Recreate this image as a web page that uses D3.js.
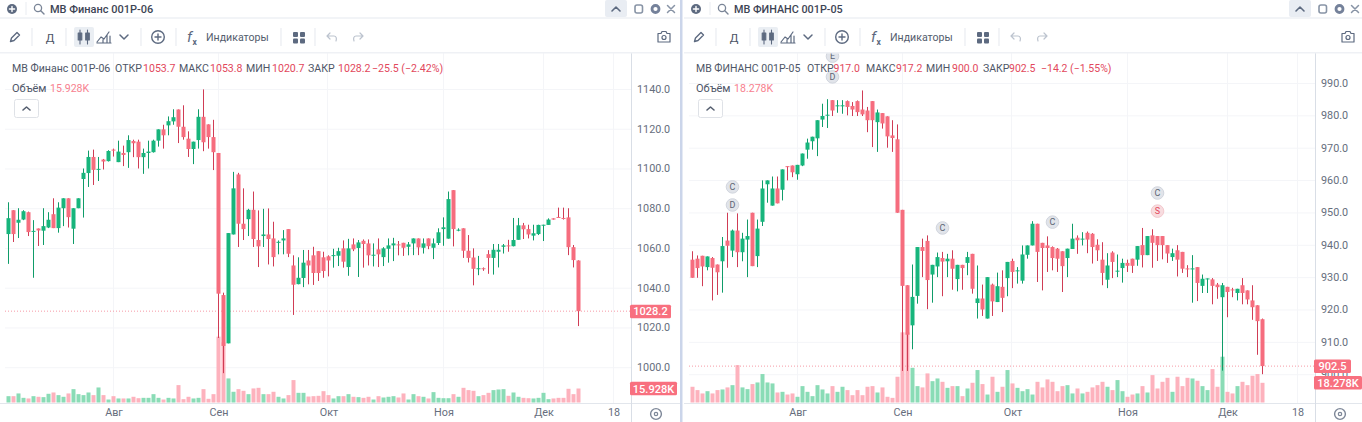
<!DOCTYPE html>
<html>
<head>
<meta charset="utf-8">
<style>
  html, body { margin: 0; padding: 0; background: #fff; overflow: hidden; }
  text { font-family: Roboto, "Noto Sans", sans-serif; }
  .domain { display: none; }
</style>
<script src="https://cdnjs.cloudflare.com/ajax/libs/d3/7.8.5/d3.min.js"></script>
</head>
<body>
<div id="chart"></div>
<script>
var monthLabels = ["Авг", "Сен", "Окт", "Ноя", "Дек", "18"];
var monthIndex = [21, 42, 64, 87, 107, 121];

// МВ Финанс 001Р-06
var leftOpen = [1067,1079,1072.7,1074.3,1078,1068.2,1069.8,1068.7,1070.3,1077,
  1070,1080,1085,1069.7,1080,1094.7,1097.7,1105.8,1099.3,1104.5,
  1103.7,1109.5,1103.2,1107.8,1108.2,1113.8,1113.5,1105.7,1107.8,1108.2,
  1114,1119.7,1121.7,1123.7,1129.7,1121,1115,1109.8,1114.3,1126,
  1122.2,1115.8,1107.8,1036.3,1012,1066.8,1097,1072.2,1074.5,1079.2,
  1064,1066,1066.8,1064.8,1062.8,1063.8,1069.5,1051.2,1041.8,1044.9,
  1053.7,1056.3,1058.4,1055.3,1055.8,1055.9,1056.1,1059.8,1050.4,1061.8,
  1060,1063.6,1062.3,1056.3,1059.3,1055.4,1059.6,1061.3,1061.8,1062.6,
  1060.6,1062.3,1064.8,1060.1,1064.8,1060.1,1062.5,1069.5,1064.7,1089.1,
  1068.7,1069.9,1058.6,1055.2,1049.5,1049.8,1056.9,1055,1058.1,1060.6,
  1061.3,1060.9,1064.1,1071.4,1069.5,1066.2,1067,1071.4,1071.6,1074.9,
  1075.6,1075.1,1075.4,1060.4,1053.7];
var leftClose = [1075,1067,1074.2,1078.5,1068,1068.6,1068.8,1071,1074.2,1070,
  1080.3,1085,1075.5,1080,1085,1097.8,1105.8,1099.3,1099.8,1103.5,
  1108.8,1109,1108.5,1106.8,1114.3,1112.7,1105.7,1107.8,1108.5,1114,
  1119.7,1116.7,1123.8,1125.8,1121,1115.8,1109.8,1113.5,1126,1113.2,
  1115.8,1108.2,1037,1010.7,1067.5,1090,1072.2,1069.5,1079.2,1064.5,
  1060.8,1066.8,1064.5,1055.4,1063.1,1064.8,1057.1,1041.5,1045,1052.6,
  1051.2,1047.4,1047.4,1048.4,1053.7,1056.4,1058.4,1053.1,1059.8,1059.3,
  1062.8,1062,1056.3,1056.6,1056.8,1059.8,1061.3,1062.3,1061.5,1060.1,
  1061.8,1064.8,1060.3,1062.3,1060.9,1062.3,1067.9,1070.4,1084.6,1069.5,
  1069.2,1058.6,1055,1049.5,1049.8,1049.3,1055,1059.1,1059.1,1061.3,
  1060.9,1064,1071.4,1069.4,1066.8,1067.4,1071.6,1071.7,1074.3,1074.3,
  1075.3,1074.6,1060.4,1053.9,1028.2];
var leftHigh = [1083,1079,1080,1079,1078.3,1074,1069.8,1080,1078,1085,
  1083,1085,1085,1080,1085,1100,1109,1109.5,1105.8,1104.8,
  1109.2,1110,1114,1111.5,1116.7,1114.5,1114.5,1110,1114,1114.5,
  1119.7,1122,1126.2,1129.8,1129.7,1131.8,1118.7,1113.5,1129.8,1139.8,
  1122.2,1124.5,1107.8,1037.5,1067.5,1098.3,1097.8,1090,1079.7,1088.4,
  1078.9,1079.7,1079.9,1073.2,1063.8,1069,1069.5,1056.3,1055.3,1059,
  1059,1060.6,1058.4,1058.1,1056.3,1059.6,1060.1,1063.8,1064.6,1064.8,
  1064,1064.3,1064.3,1062.3,1064.8,1060.4,1064.8,1065.1,1063.5,1062.6,
  1063,1064.8,1064.8,1064.8,1064.8,1064.8,1069.9,1075.4,1088.4,1089.1,
  1069.9,1069.9,1066.5,1059.8,1056,1050.2,1058.9,1062,1062,1062,
  1064.1,1075.1,1075.1,1072.6,1071.7,1071.7,1071.7,1071.7,1074.9,1074.9,
  1080.3,1080.3,1080,1061.5,1053.8];
var leftLow = [1052,1063,1065,1074,1066,1045,1061,1061.5,1070,1070,
  1067.7,1071,1070.3,1062,1080,1075.3,1090.7,1091.7,1093.7,1099.5,
  1103.5,1106,1103.2,1101.2,1100.3,1105.7,1100,1097.3,1100,1108,
  1111,1110,1116.7,1122,1112.8,1114.5,1105.8,1102.2,1110,1108.7,
  1110,1099.2,1014.7,997,1012,1066.8,1060.5,1064,1066,1060.5,
  1050.4,1060.5,1051.7,1050.7,1056.8,1056.8,1055.4,1026.3,1041.7,1040.3,
  1041.7,1041.4,1043.4,1045,1045.7,1050.1,1050.9,1050.1,1046,1058.4,
  1045.4,1050.1,1051.2,1050.7,1050.4,1050.9,1052.6,1053.4,1056.3,1056,
  1056.3,1056.4,1056.4,1057.2,1059.4,1054.4,1061.5,1061.1,1064.7,1060.8,
  1068.4,1055,1052.7,1041.2,1046.3,1048.5,1047,1046.6,1050.2,1057.2,
  1058.1,1060.8,1064.1,1064.5,1064.8,1063.8,1066.5,1063.5,1071.6,1074.3,
  1075.3,1074.3,1056.4,1050.2,1020.7];
var leftVolume = [7.2,7.2,10.3,5.3,4.6,7.2,6.5,6.1,9.9,11.4,
  8.4,6.5,10.3,15.2,9.5,8.4,11.4,8.4,17.1,8.4,
  3.4,7.2,4.6,4.6,4.6,6.5,4.9,5.3,5.3,9.5,
  5.3,3.4,5.3,4.6,19.8,3.8,6.5,4.6,5.3,15.2,
  4.2,9.5,74.9,68.4,27.4,12.2,15.2,13.3,9.5,16,
  16.7,9.5,9.5,12.2,6.5,4.6,8.4,25.5,11,11,
  6.8,7.2,7.6,12.9,8.4,4.6,7.2,7.2,9.5,6.5,
  6.1,5.3,6.5,3.4,7.2,5.7,6.5,7.2,5.7,10.3,
  3.4,9.5,7.2,6.5,4.6,11.8,5.3,4.9,4.9,9.5,
  6.5,16.7,14.1,13.3,7.2,8.4,11,14.1,14.8,15.2,
  7.6,11.4,6.5,5.3,4.9,4.6,5.3,11,3.8,4.6,
  5.3,5.3,15.6,9.5,15.928];
var leftPriceTicks = [1000,1020,1040,1060,1080,1100,1120,1140];

// МВ ФИНАНС 001Р-05
var rightOpen = [935.4,935.7,936.6,933.1,935.9,933.9,934.9,941.3,938.2,944.4,
  937.7,941.6,949.9,936.5,947.1,958.7,952.1,957.4,957,964.3,
  964.5,961.8,964.5,969.4,972,972.9,978.7,979.9,984.7,982.9,
  982.9,984.4,982.9,984.4,981.8,981.5,984.4,977.9,980.7,979.7,
  973.8,972.6,950.8,927.5,915.1,924.2,939.3,941.2,930.8,933.3,
  935.9,934.9,935.7,929.4,933.8,934.4,937.2,922,923.4,917.2,
  927.7,922.3,927,929.7,935,931.8,928.9,936.9,939.8,946.5,
  940.6,939.8,939.3,938.8,938,935.9,938.7,942.2,941.7,943.7,
  943.4,940,935.4,929.2,937.6,931.7,932.8,934.4,935.7,935.4,
  939.9,936.8,942.9,942.7,942.7,939.9,936.2,938.3,937.8,932.7,
  932.5,933.1,927.3,929.4,929.3,927.7,923.8,927,926.2,925.1,
  927.5,925.9,922.8,921.3,917];
var rightClose = [929.8,932.8,933.3,936.4,932.9,931.5,939.6,939.7,944.4,937.7,
  941.9,942.7,933.4,945,957.4,959.9,957.4,952.8,963.3,964.1,
  962.4,964.7,968.2,971.6,973.4,978.5,979.8,980.2,981.5,983.1,
  983.1,982.6,981.8,981,980.3,978.5,978.5,980.9,977.5,973.5,
  973,949.9,927.3,912.2,923.9,939.3,938.1,929.1,933.8,936.2,
  934.8,935.7,932.6,933.8,932.8,936.2,926.4,923.4,920,930,
  922.5,927.2,923.6,934.7,931.6,932.1,937,939.8,946.5,937.8,
  939,939,935.9,935.7,933.4,938.8,941.9,941.4,941.9,941.6,
  939.3,938.3,931.3,933.6,934.7,932,934.4,933.5,933.5,939.6,
  936.8,942.7,940.6,939.9,939.9,937.3,937.4,935.4,932.6,932.5,
  932.7,928.2,929.5,929.6,927.3,926.9,927.5,925.4,926,926.4,
  925.1,923.1,920.7,916.4,902.5];
var rightHigh = [938,936.7,936.6,936.4,936.2,933.9,942.4,949.9,944.7,949.7,
  943.7,947.8,949.9,947.8,959.9,959.9,961.1,961.1,963.3,964.3,
  964.5,964.7,968.2,972.8,973.4,978.5,983.6,985,984.7,984.7,
  984.7,984.6,984.1,984.6,987.7,982.6,984.4,981.8,980.7,979.7,
  978.5,977.2,950.8,927.5,933.9,939.3,941.9,942.9,933.8,937.6,
  937.8,937.2,938.3,933.8,933.8,937.8,937.2,933.6,927.7,930,
  928,931.4,932.1,934.7,935.7,933.1,939.8,939.8,947.3,946.5,
  940.6,942.6,939.5,939,938,938.8,946.5,942.9,943.9,944.1,
  943.6,941.7,940.8,937.4,938,937,935.7,935.4,935.7,939.6,
  945.2,942.7,944.8,942.7,942.7,939.9,938.8,939.9,937.8,933.7,
  936.8,933.1,930.8,929.6,929.7,928.2,928.2,927,926.7,926.4,
  929.7,925.9,927.5,921.3,917.2];
var rightLow = [929.8,929.8,927.2,932.1,922.8,924.5,925.2,932.9,936.2,933.1,
  934.9,930,933.4,933.1,945.8,953,952.1,952.8,953.7,959.9,
  960.9,960.1,964.3,966.6,969.4,967.4,976.4,976.1,979.8,980.8,
  980.5,980,979.8,979.8,979.8,974.8,970.2,968.7,975.9,970,
  968.7,949.9,901,901,907.7,921.8,930,920.1,922.1,930,
  924.1,930,926.1,925.6,926.1,930.6,924.9,917.2,918,917.2,
  918,922.3,919.2,924.1,926.6,928,928,935.7,939.8,928.5,
  925.9,931.6,932.1,931.6,925.4,930,938.7,937.2,939.8,937.4,
  934.2,935,927.5,926.6,929.7,930,928.3,931.6,931.3,933.5,
  933,936.8,932.9,935,935.5,934.4,935,930.2,931.3,930,
  922.1,922.6,925.1,925.1,921.6,923.3,901.1,917.6,923.8,922.8,
  921.6,921.6,916.8,906,900];
var rightVolume = [14.6,11.5,8.4,10.5,8.4,11.5,12.1,14,16.1,34.7,
  14,12.4,17.1,18.6,26.4,18.6,17.7,9.3,9.9,7.4,
  8.4,5.3,15.2,9.9,5.9,16.1,12.1,8.4,15.2,9.9,
  14.6,11.5,6.8,11.5,6.8,14.6,15.2,9.3,14,5.3,
  4.3,23.9,65.1,65.1,32.2,15.2,14,27,19.8,22.3,
  19.2,13.6,15.2,15.2,5.9,13,18.3,30.1,17.1,7.4,
  23.9,9.9,14.6,30.1,17.7,13.6,10.5,12.4,7.4,19.2,
  14,21.4,19.2,10.5,15.2,16.1,8.4,13,8.4,9.9,
  14,16.1,19.2,14.6,11.5,20.8,10.5,5.3,7.4,8.4,
  15.2,9.3,25.4,13,19.2,22.9,9.9,23.9,15.2,22.9,
  22.3,20.2,15.2,11.5,31,14.6,42.5,9.9,8.4,15.2,
  19.2,16.1,24.8,26.4,18.278];
var rightPriceTicks = [900,910,920,930,940,950,960,970,980,990];

// bubbles above the candles of the right chart
var eventLetters = ["C","D","E","D","C","C","C","S"];
var eventIndex = [8,8,28,28,50,72,93,93];
var eventPrice = [957.9,952.3,998.3,991.9,945.2,947,956,950.4];

var svgWidth = 1362;
var svgHeight = 422;

var colorUp = "#17b57c";
var colorUpWick = "#0f9c69";
var colorDown = "#f66d7e";
var colorDownWick = "#d03c55";
var colorUpVol = "#8adcb6";
var colorDownVol = "#fdb2bd";
var textColor = "#4e5667";
var axisColor = "#666e7d";
var redText = "#e2485c";
var lightRed = "#f7818f";
var iconColor = "#5d6a80";

var svg = d3.select("#chart")
  .append("svg")
  .attr("width", svgWidth)
  .attr("height", svgHeight)
  .style("display", "block");

svg.append("rect").attr("width", svgWidth).attr("height", svgHeight).attr("fill", "#fff");

var clip = svg.append("defs").append("clipPath").attr("id", "plotClip")
clip.append("rect").attr("x", 0).attr("y", 53).attr("width", 631).attr("height", 350);

function label(g, x, y, str, size, color, weight, anchor) {
  return g.append("text")
    .attr("x", x)
    .attr("y", y)
    .attr("font-size", size)
    .attr("fill", color)
    .attr("font-weight", weight || 400)
    .attr("text-anchor", anchor || "start")
    .text(str);
}

function divider(g, x) {
  g.append("line").attr("x1", x).attr("x2", x).attr("y1", 28).attr("y2", 46)
    .attr("stroke", "#e9ecf1").attr("stroke-width", 1.2);
}

function icon(g, x, y, path, opts) {
  opts = opts || {};
  g.append("path")
    .attr("transform", "translate(" + x + "," + y + ")")
    .attr("d", path)
    .attr("fill", opts.fill || "none")
    .attr("stroke", opts.stroke || iconColor)
    .attr("stroke-width", opts.width || 1.4)
    .attr("stroke-linecap", "round")
    .attr("stroke-linejoin", "round");
}

function drawToolbar(g, cfg) {
  // top row
  g.append("rect").attr("x", 0).attr("y", 17).attr("width", 680).attr("height", 2).attr("fill", "#f2f4f7");
  g.append("rect").attr("x", 0).attr("y", 52).attr("width", 680).attr("height", 1.5).attr("fill", "#eff1f5");
  g.append("circle").attr("cx", 12).attr("cy", 9).attr("r", 5).attr("fill", iconColor);
  icon(g, 12, 9, "M-2.6,0H2.6M0,-2.6V2.6", { stroke: "#fff" });
  g.append("line").attr("x1", 26).attr("x2", 26).attr("y1", 2).attr("y2", 15).attr("stroke", "#e9ecf1");
  g.append("circle").attr("cx", 38).attr("cy", 8).attr("r", 3.6).attr("fill", "none").attr("stroke", "#7a8597").attr("stroke-width", 1.3);
  icon(g, 38, 8, "M2.8,2.8L6,6", { stroke: "#7a8597" });
  label(g, 50, 13, cfg.symbol, cfg.symbolSize, "#3d4454", 500);

  g.append("rect").attr("x", 605).attr("y", 0).attr("width", 22).attr("height", 17).attr("rx", 2).attr("fill", "#e9edf3");
  icon(g, 616, 9, "M-4,2L0,-2L4,2", { width: 1.6 });
  g.append("rect").attr("x", 635).attr("y", 5).attr("width", 7.5).attr("height", 8).attr("rx", 2).attr("fill", "none").attr("stroke", "#8894a6").attr("stroke-width", 1.6);
  g.append("circle").attr("cx", 655.5).attr("cy", 9).attr("r", 3.5).attr("fill", "none").attr("stroke", "#74819a").attr("stroke-width", 2.8);
  icon(g, 671, 9, "M-3.5,-3.5L3.5,3.5M-3.5,3.5L3.5,-3.5", { stroke: "#8894a6", width: 1.5 });

  // second row
  icon(g, 15, 37, "M-4.5,4.5L-3.5,1L2,-4.5L4.5,-2L-1,3.5Z");
  divider(g, 32);
  label(g, 50, 41.5, "Д", 11.5, "#4c5566", 400, "middle");
  divider(g, 66);
  g.append("rect").attr("x", 74).attr("y", 27).attr("width", 20).attr("height", 20).attr("rx", 2).attr("fill", "#eaeef3");
  icon(g, 80, 37, "M0,-7V7M-1.8,-4H1.8V3H-1.8Z", { fill: iconColor, width: 1.1 });
  icon(g, 87.5, 37, "M0,-7V7M-1.8,-4H1.8V3H-1.8Z", { fill: iconColor, width: 1.1 });
  icon(g, 104, 37, "M-7,5L-3,0L0,2L5,-5M-7,6H7M-1,6V2.5M3,6V-2M6,6V-1", { width: 1.2 });
  icon(g, 124, 37, "M-4,-2L0,2L4,-2", { width: 1.5 });
  divider(g, 141);
  g.append("circle").attr("cx", 158).attr("cy", 37).attr("r", 6.3).attr("fill", "none").attr("stroke", iconColor).attr("stroke-width", 1.4);
  icon(g, 158, 37, "M-3,0H3M0,-3V3", { width: 1.4 });
  divider(g, 176);
  label(g, 187, 42, "f", 15, iconColor, 400).attr("font-style", "italic");
  label(g, 192.5, 45, "x", 8.5, iconColor, 700);
  label(g, 206, 41, "Индикаторы", 10.6, "#535c6d");
  divider(g, 281);
  [[-5, -5], [2, -5], [-5, 1.5], [2, 1.5]].forEach(function (p) {
    g.append("rect").attr("x", 298 + p[0]).attr("y", 37 + p[1]).attr("width", 5).attr("height", 5).attr("rx", 1).attr("fill", iconColor);
  });
  divider(g, 315);
  icon(g, 332, 37, "M-2,-4L-5,-1L-2,2M-5,-1H2C4,-1 5,1 4,4", { stroke: "#bcc3ce", width: 1.2 });
  icon(g, 358, 37, "M2,-4L5,-1L2,2M5,-1H-2C-4,-1 -5,1 -4,4", { stroke: "#bcc3ce", width: 1.2 });
  icon(g, 664, 37, "M-6,-3.5H-3L-2,-5.5H2L3,-3.5H6V5H-6Z", { width: 1.2 });
  g.append("circle").attr("cx", 664).attr("cy", 37.5).attr("r", 2).attr("fill", "none").attr("stroke", iconColor).attr("stroke-width", 1.2);
}

function drawLegend(g, cfg) {
  label(g, cfg.symbolX, 72, cfg.symbol, cfg.legendSize, textColor);
  cfg.legendKeys.forEach(function (k, i) {
    label(g, cfg.legendKeyX[i], 72, k, cfg.legendSize, textColor);
    label(g, cfg.legendValX[i], 72, cfg.legendVals[i], cfg.legendSize, redText);
  });
  label(g, cfg.closeChangeX, 72, cfg.closeChange, cfg.legendSize, redText);
  label(g, cfg.symbolX, 92, "Объём", 11, textColor);
  label(g, cfg.volTextX, 92, cfg.volText, 10.6, lightRed);
  g.append("rect").attr("x", 14.5).attr("y", 99.5).attr("width", 24).attr("height", 18).attr("rx", 2)
    .attr("fill", "#fff").attr("stroke", "#dfe2e7");
  icon(g, 26.5, 108.5, "M-3.5,1.5L0,-1.5L3.5,1.5", { stroke: "#565f70", width: 1.6 });
}

function drawPanel(cfg) {
  var g = svg.append("g").attr("transform", "translate(" + cfg.dx + ",0)");

  var xScale = d3.scaleLinear().domain([0, 114]).range([8.5, 578.5]);
  var yScale = d3.scaleLinear().domain(cfg.priceDomain).range(cfg.priceRange);
  var vScale = d3.scaleLinear().domain([0, cfg.volRef]).range([402.5, 402.5 - cfg.volRefPx]);

  // grid
  g.selectAll(".hgrid").data(cfg.priceTicks).enter().append("line")
    .attr("x1", 5).attr("x2", 631)
    .attr("y1", function (d) { return yScale(d) + 0.5; })
    .attr("y2", function (d) { return yScale(d) + 0.5; })
    .attr("stroke", "#f4f5f8");
  g.selectAll(".vgrid").data(monthIndex).enter().append("line")
    .attr("x1", function (d) { return Math.round(xScale(d)) - 0.5; })
    .attr("x2", function (d) { return Math.round(xScale(d)) - 0.5; })
    .attr("y1", 53).attr("y2", 403)
    .attr("stroke", "#f4f5f8");

  var plot = g.append("g").attr("clip-path", "url(#plotClip)");
  var idx = d3.range(cfg.open.length);

  // volume
  plot.selectAll(".vol").data(idx).enter().append("rect")
    .attr("x", function (i) { return xScale(i) - 2; })
    .attr("width", 4)
    .attr("y", function (i) { return vScale(cfg.volume[i]); })
    .attr("height", function (i) { return vScale(0) - vScale(cfg.volume[i]); })
    .attr("fill", function (i) { return cfg.close[i] < cfg.open[i] ? colorDownVol : colorUpVol; });

  // last price line
  plot.append("line")
    .attr("x1", 5).attr("x2", 631)
    .attr("y1", yScale(cfg.close[114])).attr("y2", yScale(cfg.close[114]))
    .attr("stroke", "#f69aa6").attr("stroke-dasharray", "1 2");

  // candles
  plot.selectAll(".wick").data(idx).enter().append("line")
    .attr("x1", function (i) { return xScale(i); })
    .attr("x2", function (i) { return xScale(i); })
    .attr("y1", function (i) { return yScale(cfg.high[i]); })
    .attr("y2", function (i) { return yScale(cfg.low[i]); })
    .attr("stroke", function (i) { return cfg.close[i] < cfg.open[i] ? colorDownWick : colorUpWick; })
    .attr("stroke-width", 1);
  plot.selectAll(".body").data(idx).enter().append("rect")
    .attr("x", function (i) { return xScale(i) - 2; })
    .attr("width", 4)
    .attr("y", function (i) { return yScale(Math.max(cfg.open[i], cfg.close[i])); })
    .attr("height", function (i) { return Math.max(1, Math.abs(yScale(cfg.open[i]) - yScale(cfg.close[i]))); })
    .attr("fill", function (i) { return cfg.close[i] < cfg.open[i] ? colorDown : colorUp; });

  // bubbles
  if (cfg.events) {
    var bubbles = plot.selectAll(".ev").data(d3.range(cfg.events.letters.length)).enter().append("g")
      .attr("transform", function (k) {
        return "translate(" + xScale(cfg.events.index[k]) + "," + yScale(cfg.events.price[k]) + ")";
      });
    bubbles.append("circle")
      .attr("r", 6.3)
      .attr("fill", function (k) { return cfg.events.letters[k] == "S" ? "#f8dcdf" : "#e1e4ea"; })
      .attr("stroke", function (k) { return cfg.events.letters[k] == "S" ? "#f3c9ce" : "#d2d6de"; });
    bubbles.append("text")
      .attr("y", 3.2)
      .attr("text-anchor", "middle")
      .attr("font-size", 9)
      .attr("fill", function (k) { return cfg.events.letters[k] == "S" ? redText : "#5d6573"; })
      .text(function (k) { return cfg.events.letters[k]; });
  }

  drawLegend(g, cfg);

  // axes
  var yAxis = d3.axisRight(yScale)
    .tickValues(cfg.priceTicks)
    .tickSize(0)
    .tickPadding(6)
    .tickFormat(d3.format(".1f"));
  var yG = g.append("g")
    .attr("transform", "translate(631,0)")
    .call(yAxis);
  yG.selectAll("text").attr("font-size", 10.8).attr("fill", axisColor).attr("font-family", "Roboto");

  var xAxis = d3.axisBottom(xScale)
    .tickValues(monthIndex)
    .tickSize(0)
    .tickPadding(5)
    .tickFormat(function (d, i) { return monthLabels[i]; });
  var xG = g.append("g")
    .attr("transform", "translate(0,403)")
    .call(xAxis);
  xG.selectAll("text").attr("font-size", 10.8).attr("fill", axisColor).attr("font-family", "Roboto");

  g.append("line").attr("x1", 0).attr("x2", 680).attr("y1", 403.5).attr("y2", 403.5).attr("stroke", "#e2e6ec");
  g.append("line").attr("x1", 631.5).attr("x2", 631.5).attr("y1", 53).attr("y2", 422).attr("stroke", "#d9dee6");

  // settings icon under the axis
  g.append("circle").attr("cx", 656).attr("cy", 414).attr("r", 5.4).attr("fill", "none").attr("stroke", "#7d8798").attr("stroke-width", 1.4);
  g.append("circle").attr("cx", 656).attr("cy", 414).attr("r", 1.7).attr("fill", "none").attr("stroke", "#7d8798").attr("stroke-width", 1.2);

  // badges
  var closeY = yScale(cfg.close[114]);
  g.append("rect").attr("x", 630).attr("y", closeY - 6.5).attr("width", cfg.closeBadgeW).attr("height", 13.5).attr("rx", 1.5).attr("fill", "#f8707f");
  label(g, 630 + cfg.closeBadgeW / 2, closeY + 4, cfg.close[114].toFixed(1), 11, "#fff", 500, "middle");
  var volY = vScale(cfg.volume[114]);
  g.append("rect").attr("x", 630).attr("y", volY - 6.8).attr("width", cfg.volBadgeW).attr("height", 13.5).attr("rx", 1.5).attr("fill", "#f8707f");
  label(g, 630 + cfg.volBadgeW / 2, volY + 4, cfg.volText, 11, "#fff", 500, "middle");

  drawToolbar(g, cfg);
}

drawPanel({
  dx: 0,
  open: leftOpen, close: leftClose, high: leftHigh, low: leftLow, volume: leftVolume,
  priceDomain: [1000, 1140], priceRange: [367.2, 89],
  priceTicks: leftPriceTicks,
  volRef: 15.928, volRefPx: 14,
  symbol: "МВ Финанс 001Р-06",
  symbolX: 12,
  symbolSize: 11,
  legendSize: 10.6,
  legendKeys: ["ОТКР", "МАКС", "МИН", "ЗАКР"],
  legendKeyX: [115, 179, 246, 308],
  legendValX: [143, 210, 272, 338],
  legendVals: ["1053.7", "1053.8", "1020.7", "1028.2"],
  closeChange: "−25.5 (−2.42%)",
  closeChangeX: 372,
  volText: "15.928K", volTextX: 50,
  closeBadgeW: 41, volBadgeW: 47
});

drawPanel({
  dx: 684,
  open: rightOpen, close: rightClose, high: rightHigh, low: rightLow, volume: rightVolume,
  priceDomain: [900, 990], priceRange: [374.2, 83],
  priceTicks: rightPriceTicks,
  volRef: 18.278, volRefPx: 19.7,
  events: { letters: eventLetters, index: eventIndex, price: eventPrice },
  symbol: "МВ ФИНАНС 001Р-05",
  symbolX: 12,
  symbolSize: 10.8,
  legendSize: 10.5,
  legendKeys: ["ОТКР", "МАКС", "МИН", "ЗАКР"],
  legendKeyX: [123, 182, 242, 299],
  legendValX: [149.5, 212, 268, 325],
  legendVals: ["917.0", "917.2", "900.0", "902.5"],
  closeChange: "−14.2 (−1.55%)",
  closeChangeX: 357,
  volText: "18.278K", volTextX: 50,
  closeBadgeW: 37, volBadgeW: 48
});

// splitter between the two charts
svg.append("rect").attr("x", 680).attr("y", 0).attr("width", 2.5).attr("height", svgHeight).attr("fill", "#cbd5ea");
</script>
</body>
</html>
